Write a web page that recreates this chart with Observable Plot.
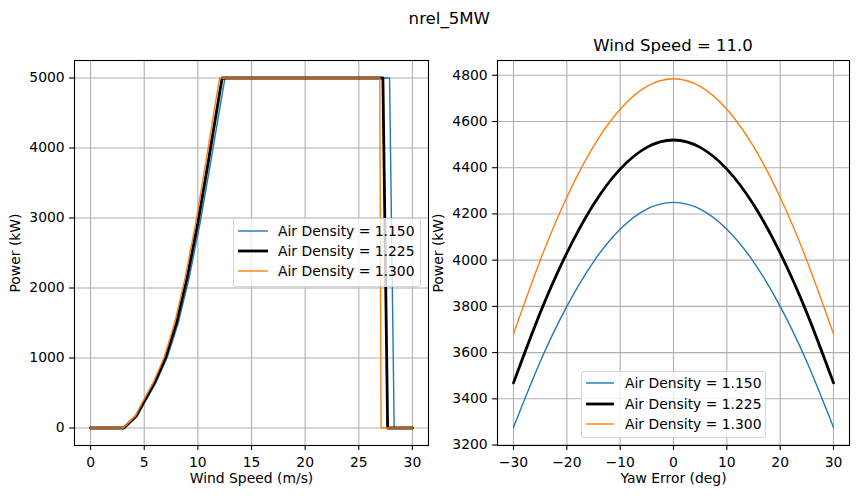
<!DOCTYPE html>
<html>
<head>
<meta charset="utf-8">
<script src="https://cdn.jsdelivr.net/npm/d3@7"></script>
<script src="https://cdn.jsdelivr.net/npm/@observablehq/plot@0.6"></script>
<style>
  html, body { margin: 0; padding: 0; background: #fff; }
  #fig { position: relative; width: 859px; height: 498px; overflow: hidden; font-family: "DejaVu Sans", sans-serif; color: #000; }
  .title { position: absolute; font-size: 16.6px; line-height: 1; white-space: nowrap; }
  .legend { position: absolute; background: rgba(255,255,255,0.8); border: 1px solid rgba(204,204,204,0.8); border-radius: 3px; box-sizing: border-box; }
  .legend .row { position: absolute; left: 0; height: 0; }
  .legend .row svg { position: absolute; left: 0; top: -5px; overflow: visible; }
  .legend .row span { position: absolute; top: 0; transform: translateY(-50%); font-size: 13.9px; line-height: 1.2; white-space: nowrap; }
  svg.plot { position: absolute; top: 0; overflow: visible; }
</style>
</head>
<body>
<div id="fig"></div>
<script>
// ---------- data ----------
const seriesNames = ["Air Density = 1.150", "Air Density = 1.225", "Air Density = 1.300"];
const seriesColors = ["#1f77b4", "#000000", "#ff7f0e"];
const seriesWidths = [1.4, 2.8, 1.4];

// Left panel: power curve (kW) vs wind speed (m/s)
const powerKW  = [0, 0, 170, 385, 660, 1010, 1500, 2150, 2930, 3830, 4760, 5000, 5000, 0, 0];
const ws_1150  = [0, 3.17, 4.34, 5.11, 6.13, 7.15, 8.17, 9.19, 10.21, 11.23, 12.26, 12.53, 27.87, 28.30, 30];
const ws_1225  = [0, 3.10, 4.25, 5.00, 6.00, 7.00, 8.00, 9.00, 10.00, 11.00, 12.00, 12.27, 27.25, 27.69, 30];
const ws_1300  = [0, 3.04, 4.17, 4.90, 5.88, 6.86, 7.84, 8.82, 9.80, 10.78, 11.76, 12.03, 26.96, 27.08, 30];

// Right panel: power (kW) vs yaw error (deg) at wind speed 11.0
const yawDeg   = [-30, -25, -20, -15, -10, -5, 0, 5, 10, 15, 20, 25, 30];
const yaw_1150 = [3276, 3560, 3800, 3993, 4134, 4221, 4250, 4221, 4134, 3993, 3800, 3560, 3276];
const yaw_1225 = [3469, 3772, 4031, 4241, 4394, 4488, 4520, 4488, 4394, 4241, 4031, 3772, 3469];
const yaw_1300 = [3681, 3999, 4272, 4492, 4653, 4752, 4785, 4752, 4653, 4492, 4272, 3999, 3681];

// Tick values
const leftXTicks  = [0, 5, 10, 15, 20, 25, 30];
const leftYTicks  = [0, 1000, 2000, 3000, 4000, 5000];
const rightXTicks = [-30, -20, -10, 0, 10, 20, 30];
const rightYTicks = [3200, 3400, 3600, 3800, 4000, 4200, 4400, 4600, 4800];

const suptitle = "nrel_5MW";
const rightTitle = "Wind Speed = 11.0";

// ---------- build ----------
const fig = document.getElementById("fig");
const fmt = d => String(d).replace("-", "\u2212");
const gridStyle = {stroke: "#b0b0b0", strokeOpacity: 1, strokeWidth: 1.1};
const FONT = "13.9px";

const leftSeries = [ws_1150, ws_1225, ws_1300].map(ws =>
  ws.map((w, j) => ({x: w, y: powerKW[j]})));
const rightSeries = [yaw_1150, yaw_1225, yaw_1300].map(vals =>
  vals.map((v, j) => ({x: yawDeg[j], y: v})));

function panel({series, xDomain, yDomain, xTicks, yTicks, xLabel, yLabel, width, marginLeft, marginRight, curve}) {
  const marks = [
    Plot.gridX(xTicks, {x: d => d, ...gridStyle}),
    Plot.gridY(yTicks, {y: d => d, ...gridStyle}),
    ...series.map((data, i) => Plot.line(data, {
      x: "x", y: "y", stroke: seriesColors[i], strokeWidth: seriesWidths[i], curve,
      strokeLinejoin: "round"
    })),
    Plot.axisX(xTicks, {anchor: "bottom", tickSize: 4.9, tickPadding: 6.6, tickFormat: fmt, label: null, stroke: "#000", strokeWidth: 1.1}),
    Plot.axisY(yTicks, {anchor: "left", tickSize: 4.9, tickPadding: 4.9, tickFormat: fmt, label: null, stroke: "#000", strokeWidth: 1.1}),
    Plot.frame({stroke: "#000", strokeWidth: 1.1}),
    Plot.text([xLabel], {frameAnchor: "bottom", dy: 33, lineAnchor: "middle", textAnchor: "middle", text: d => d, fontSize: 13.9, fill: "#000"}),
    Plot.text([yLabel], {frameAnchor: "left", dx: -59.3, rotate: -90, lineAnchor: "middle", textAnchor: "middle", text: d => d, fontSize: 13.9, fill: "#000"})
  ];
  return Plot.plot({
    width, height: 498,
    marginLeft, marginRight, marginTop: 60, marginBottom: 53,
    x: {domain: xDomain, axis: null},
    y: {domain: yDomain, axis: null},
    style: {fontFamily: "DejaVu Sans", fontSize: FONT, background: "transparent", color: "#000", overflow: "visible"},
    marks
  });
}

const left = panel({
  series: leftSeries, xDomain: [-1.5, 31.5], yDomain: [-250, 5250],
  xTicks: leftXTicks, yTicks: leftYTicks,
  xLabel: "Wind Speed (m/s)", yLabel: "Power (kW)",
  width: 434, marginLeft: 74, marginRight: 6, curve: "linear"
});
left.classList.add("plot");
left.style.left = "0px";
fig.appendChild(left);

const right = panel({
  series: rightSeries, xDomain: [-33, 33], yDomain: [3198, 4864],
  xTicks: rightXTicks, yTicks: rightYTicks,
  xLabel: "Yaw Error (deg)", yLabel: "Power (kW)",
  width: 425, marginLeft: 63, marginRight: 10, curve: "natural"
});
right.classList.add("plot");
right.style.left = "434px";
fig.appendChild(right);

// titles
function addTitle(text, cx, baseline, size) {
  const d = document.createElement("div");
  d.className = "title";
  d.textContent = text;
  d.style.fontSize = size + "px";
  d.style.left = cx + "px";
  d.style.top = (baseline - 0.846 * size) + "px";
  d.style.transform = "translateX(-50%)";
  fig.appendChild(d);
}
addTitle(suptitle, 449.3, 25, 16.6);
addTitle(rightTitle, 673, 52, 16.5);

// legends
function addLegend(left, top, width, height, rowYs, lineX0, lineX1, textX) {
  const box = document.createElement("div");
  box.className = "legend";
  box.style.left = left + "px";
  box.style.top = top + "px";
  box.style.width = width + "px";
  box.style.height = height + "px";
  seriesNames.forEach((name, i) => {
    const row = document.createElement("div");
    row.className = "row";
    row.style.top = (rowYs[i] - top - 1) + "px";
    const svg = document.createElementNS("http://www.w3.org/2000/svg", "svg");
    svg.setAttribute("width", "60"); svg.setAttribute("height", "10");
    const ln = document.createElementNS("http://www.w3.org/2000/svg", "line");
    ln.setAttribute("x1", lineX0 - left - 1); ln.setAttribute("x2", lineX1 - left - 1);
    ln.setAttribute("y1", 5); ln.setAttribute("y2", 5);
    ln.setAttribute("stroke", seriesColors[i]);
    ln.setAttribute("stroke-width", seriesWidths[i]);
    svg.appendChild(ln);
    row.appendChild(svg);
    const sp = document.createElement("span");
    sp.textContent = name;
    sp.style.left = (textX - left - 1) + "px";
    row.appendChild(sp);
    box.appendChild(row);
  });
  fig.appendChild(box);
}
addLegend(233, 218, 188, 69, [231, 251, 271], 238, 268, 278);
addLegend(581, 371, 185, 67, [383, 404, 424], 586, 614, 625);
</script>
</body>
</html>
